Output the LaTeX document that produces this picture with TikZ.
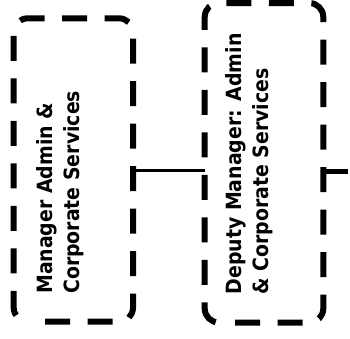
\documentclass[tikz,border=0pt]{standalone}
\usepackage{fontspec}
\newfontfamily\labelfont{DejaVu Sans Condensed Bold}
\begin{document}
\begin{tikzpicture}[x=1pt,y=-1pt]
\tikzset{
  slot/.style={inner sep=0pt, outer sep=0pt},
  outline/.style={draw=black, line width=6pt, rounded corners=14pt,
    dash pattern=on 25pt off 17.5pt},
  lbl/.style={rotate=90, anchor=north west, inner sep=0pt, align=left,
    font=\labelfont\fontsize{21}{26.7}\selectfont},
  link/.style={draw=black, line width=3pt},
  stub/.style={draw=black, line width=5pt},
}
\useasboundingbox (0,0) rectangle (350,338);

% role boxes
\node[slot, minimum width=119.3pt, minimum height=303.4pt] (mgr) at (73.35,170) {};
\node[slot, minimum width=118.6pt, minimum height=319.5pt] (dep) at (264,162.75) {};

% dashed rounded outlines, each traced from its lower left corner
\foreach \b/\ph in {mgr/25.2, dep/26.2}
  \draw[outline, dash phase=\ph pt]
    ([xshift=14pt]\b.south west) -- (\b.south east) -- (\b.north east)
    -- (\b.north west) -- (\b.south west) -- ([xshift=14pt]\b.south west);

% titles, reading upwards
\node[lbl] (mgrtext) at (36.6,294) {Manager Admin \&\\Corporate Services};
\node[lbl] (deptext) at (225.8,294.5) {Deputy Manager: Admin\\\& Corporate Services};

% reporting lines
\draw[link] (mgr.east) -- (mgr.east -| dep.west);
\coordinate (stubend) at (347.7,171.5);
\draw[stub] (dep.east |- stubend) -- (stubend);
\end{tikzpicture}
\end{document}
